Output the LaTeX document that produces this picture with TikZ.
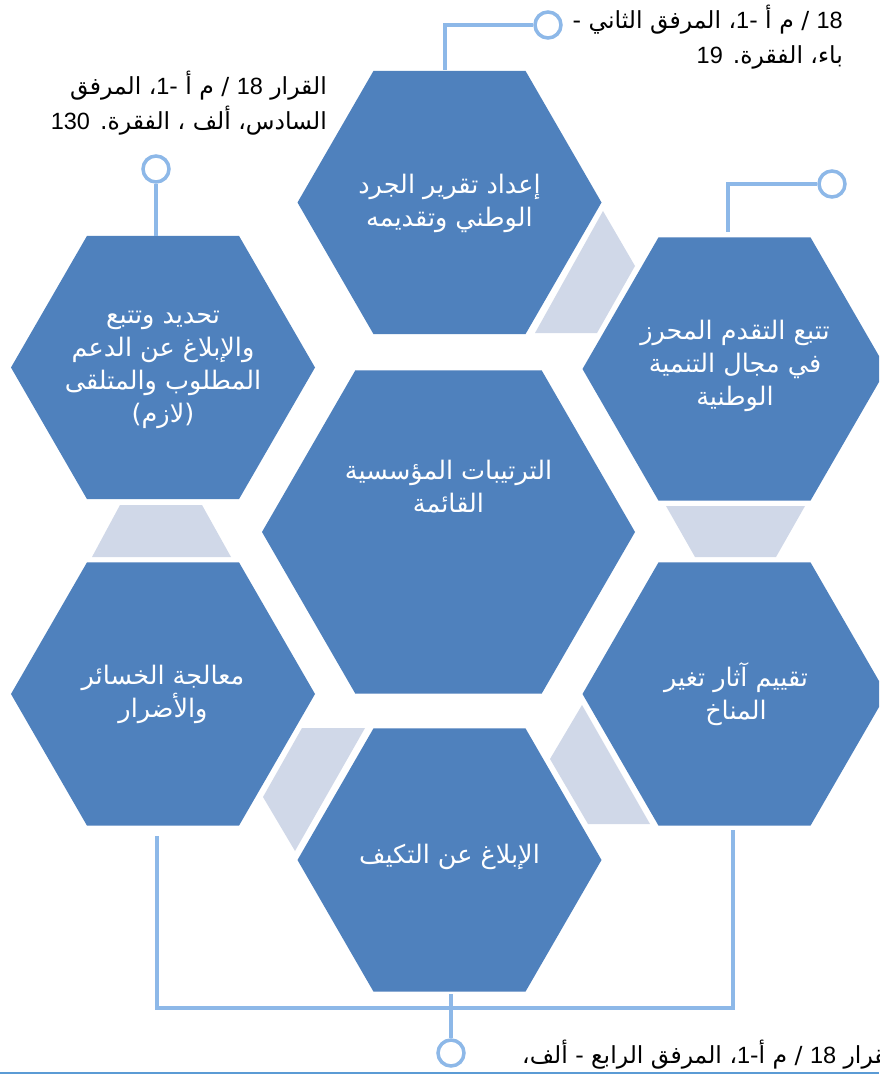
\documentclass[tikz,border=0pt]{standalone}
\usepackage{fontspec}
\setmainfont{Liberation Sans}
\newfontfamily\arabicfont[Script=Arabic]{DejaVu Sans}
\TeXXeTstate=1
\usetikzlibrary{shapes.geometric}
\definecolor{hexblue}{HTML}{4F81BD}
\definecolor{hexlight}{HTML}{D0D8E8}
\definecolor{calloutblue}{HTML}{8DB8E8}
\definecolor{ruleblue}{HTML}{5B9BD5}
\newcommand\AR[1]{{\arabicfont\beginR #1\endR}}
\newcommand\LN[1]{\beginL{\rmfamily #1}\endL}
\newcommand\hexfont{\fontsize{25.5}{33}\selectfont}
\newcommand\notefont{\fontsize{23.5}{35}\selectfont}
\tikzset{
  hexa/.style={regular polygon, regular polygon sides=6, fill=hexblue, draw=none,
    inner sep=0pt, outer sep=0pt, minimum size=304pt},
  bighexa/.style={hexa, minimum size=373pt},
  hextext/.style={text=white, align=center, font=\hexfont, inner sep=0pt},
  notetext/.style={text=black, font=\notefont, inner sep=0pt},
  ring/.style={circle, draw=calloutblue, line width=3.5pt, fill=white,
    minimum size=26pt, inner sep=0pt},
  callline/.style={draw=calloutblue, line width=3.5pt},
  lightpart/.style={fill=hexlight}
}
\begin{document}
\begin{tikzpicture}[x=1pt,y=-1pt]
\useasboundingbox (0,0) rectangle (879,1075);
\clip (0,0) rectangle (879,1075);
\fill[white] (0,0) rectangle (879,1075);

% light connector pieces
\fill[lightpart] (535,333) -- (603,211) -- (635,266) -- (597,333) -- cycle;
\fill[lightpart] (666,506) -- (805,506) -- (776,557) -- (695,557) -- cycle;
\fill[lightpart] (582,705) -- (650,824) -- (588,824) -- (550,759) -- cycle;
\fill[lightpart] (302,728) -- (365,728) -- (295,851) -- (263,797) -- cycle;
\fill[lightpart] (120,505) -- (202,505) -- (231,557) -- (92,557) -- cycle;

% hexagons
\node[hexa] (A) at (449.5,202.5) {};
\node[hexa] (B) at (734.5,369) {};
\node[hexa] (C) at (163,367.5) {};
\node[bighexa] (D) at (448.5,532) {};
\node[hexa] (E) at (163,694) {};
\node[hexa] (F) at (734.5,694) {};
\node[hexa] (G) at (449.5,860) {};

% hexagon texts
\node[hextext] (tA) at (449.5,203.5) {\AR{إعداد تقرير الجرد}\\\AR{الوطني وتقديمه}};
\node[hextext] (tB) at (735,366) {\AR{تتبع التقدم المحرز}\\\AR{في مجال التنمية}\\\AR{الوطنية}};
\node[hextext] (tC) at (163,370) {\AR{تحديد وتتبع}\\\AR{والإبلاغ عن الدعم}\\\AR{المطلوب والمتلقى}\\\AR{(لازم)}};
\node[hextext] (tD) at (448.5,486.5) {\AR{الترتيبات المؤسسية}\\\AR{القائمة}};
\node[hextext] (tE) at (163,694.5) {\AR{معالجة الخسائر}\\\AR{والأضرار}};
\node[hextext] (tF) at (736,694) {\AR{تقييم آثار تغير}\\\AR{المناخ}};
\node[hextext] (tG) at (449.5,857) {\AR{الإبلاغ عن التكيف}};

% callout rings
\node[ring] (c1) at (548,25) {};
\node[ring] (c2) at (832,184) {};
\node[ring] (c3) at (156,169) {};
\node[ring] (c4) at (451,1053) {};

% callout lines
\coordinate (a1) at (445,70);
\coordinate (a2) at (728,232);
\coordinate (a3) at (156,236);
\coordinate (g1) at (451,994);
\coordinate (l1) at (157,836);
\coordinate (bl) at (157,1008);
\coordinate (br) at (733,1008);
\coordinate (r1) at (733,830);
\draw[callline] (a1) |- (c1);
\draw[callline] (a2) |- (c2);
\draw[callline] (c3) -- (a3);
\draw[callline] (g1) -- (c4);
\draw[callline] (l1) -- (bl) -- (br) -- (r1);

% callout texts
\node[notetext, align=right, anchor=east] (n1) at (843,37)
  {\AR{\LN{18} / م أ -\LN{1}، المرفق الثاني -}\\\AR{باء، الفقرة. \LN{19}}};
\node[notetext, align=right, anchor=east] (n3) at (327,103)
  {\AR{القرار \LN{18} / م أ -\LN{1}، المرفق}\\\AR{السادس، ألف ، الفقرة. \LN{130}}};
\node[notetext, anchor=base west] (n4) at (522,1063)
  {\AR{القرار \LN{18} / م أ-\LN{1}، المرفق الرابع - ألف،}};

% bottom rule
\coordinate (ru1) at (0,1073);
\coordinate (ru2) at (879,1073);
\draw[ruleblue, line width=2.5pt] (ru1) -- (ru2);
\end{tikzpicture}
\end{document}
